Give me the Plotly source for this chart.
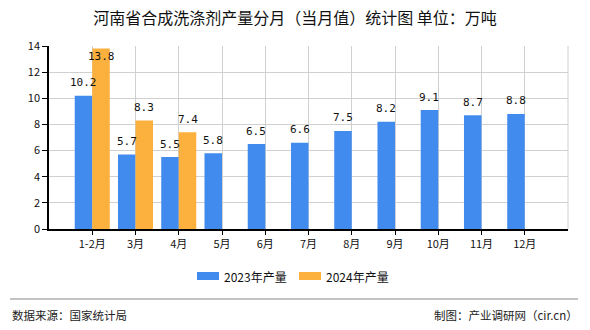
import plotly.graph_objects as go

categories = ["1-2月", "3月", "4月", "5月", "6月", "7月", "8月", "9月", "10月", "11月", "12月"]
values_2023 = [10.2, 5.7, 5.5, 5.8, 6.5, 6.6, 7.5, 8.2, 9.1, 8.7, 8.8]
values_2024 = [13.8, 8.3, 7.4, None, None, None, None, None, None, None, None]
y_ticks = [0, 2, 4, 6, 8, 10, 12, 14]
series_names = ["2023年产量", "2024年产量"]
series_colors = ["#428BEE", "#FCB03D"]

label_font = dict(family="DejaVu Sans Mono, monospace", size=11, color="#111111")

W, H = 590, 330
L, R, T, B = 49, 22, 46, 101
PW, PH = W - L - R, H - T - B
YMAX = 14

fig = go.Figure()
for name, vals, col in zip(series_names, [values_2023, values_2024], series_colors):
    fig.add_trace(go.Bar(
        x=categories, y=vals, name=name, showlegend=False,
        marker=dict(color=col, line=dict(width=0)),
    ))

# value labels (offset within group: 2 bars per category)
group_w = 1 - 0.19
for si, vals in enumerate([values_2023, values_2024]):
    off = (-0.5 + si) * group_w / 2
    for ci, v in enumerate(vals):
        if v is None:
            continue
        px_above = 13
        if (YMAX - v) / YMAX * PH < 16:
            px_above = -8
        fig.add_annotation(
            x=ci + off, y=v, xref="x", yref="y", text=f"{v:.1f}",
            showarrow=False, yshift=px_above, font=label_font,
            xanchor="center", yanchor="middle",
        )

fig.update_layout(
    width=W, height=H,
    margin=dict(l=L, r=R, t=T, b=B),
    paper_bgcolor="white", plot_bgcolor="white",
    barmode="group", bargap=0.19, bargroupgap=0,
    font=dict(family="Noto Sans CJK SC, sans-serif", size=11, color="#111111"),
    title=dict(text="河南省合成洗涤剂产量分月（当月值）统计图 单位：万吨",
               x=0.5, xanchor="center", y=1 - 18 / H, yanchor="middle",
               font=dict(size=16, color="#111111")),
    showlegend=False,
)
fig.update_xaxes(
    type="category", range=[-1, 11],
    showline=True, linecolor="#000000", linewidth=1.5,
    ticks="outside", ticklen=4, tickcolor="#000000",
    showgrid=True, gridcolor="#D0D0D0", gridwidth=1,
    tickfont=dict(size=11),
)
fig.update_yaxes(
    range=[0, YMAX], tickvals=y_ticks,
    showline=True, linecolor="#000000", linewidth=1.5,
    ticks="outside", ticklen=5, tickcolor="#000000",
    showgrid=True, gridcolor="#D0D0D0", gridwidth=1,
    tickfont=dict(size=11), zeroline=False,
)
fig.add_shape(type="line", xref="paper", yref="paper", x0=1, x1=1, y0=0, y1=1,
              line=dict(color="#D0D0D0", width=1))

# custom legend
def px_x(x):
    return (x - L) / PW

def px_y(y):
    return (H - B - y) / PH

leg_y = 276
for name, col, x0 in zip(series_names, series_colors, [197, 299]):
    fig.add_shape(type="rect", xref="paper", yref="paper",
                  x0=px_x(x0), x1=px_x(x0 + 22), y0=px_y(leg_y + 4), y1=px_y(leg_y - 4),
                  fillcolor=col, line=dict(width=0))
    fig.add_annotation(text=name, xref="paper", yref="paper",
                       x=px_x(x0 + 25), y=px_y(leg_y), xanchor="left", yanchor="middle",
                       showarrow=False, font=dict(size=12, color="#111111"))

# footer
fig.add_shape(type="line", xref="paper", yref="paper",
              x0=px_x(10), x1=px_x(578), y0=px_y(299), y1=px_y(299),
              line=dict(color="#888888", width=1))
fig.add_annotation(text="数据来源：国家统计局", xref="paper", yref="paper",
                   x=px_x(10), y=px_y(315), xanchor="left", yanchor="middle",
                   showarrow=False, font=dict(size=11.5, color="#222222"))
fig.add_annotation(text="制图：产业调研网（cir.cn）", xref="paper", yref="paper",
                   x=px_x(580), y=px_y(315), xanchor="right", yanchor="middle",
                   showarrow=False, font=dict(size=11.5, color="#222222"))

fig.write_html("out.html")
